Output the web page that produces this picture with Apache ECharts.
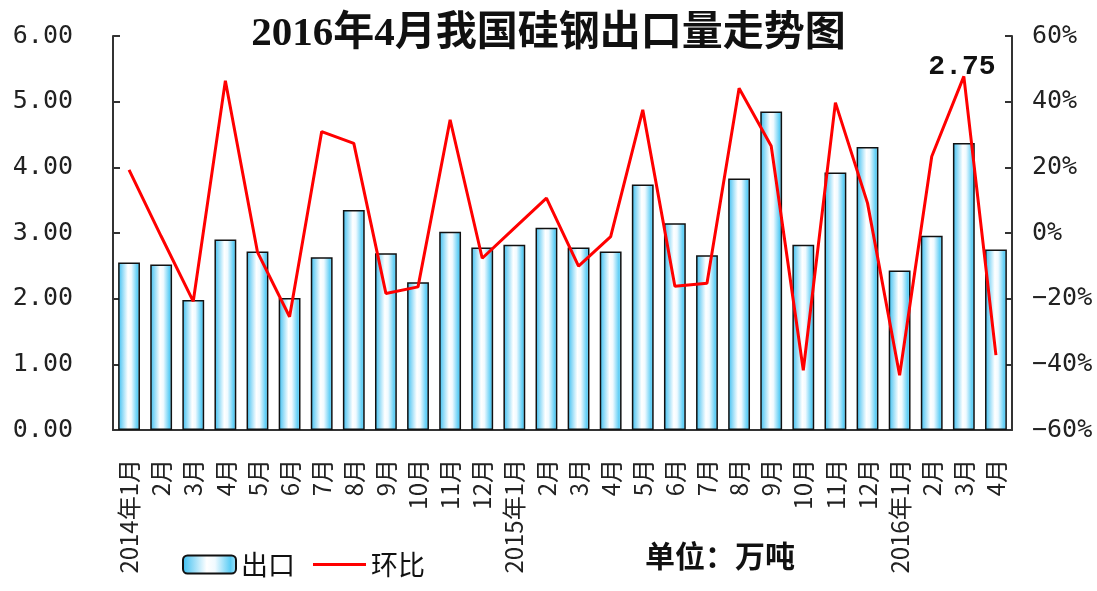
<!DOCTYPE html>
<html lang="zh">
<head>
	<meta charset="UTF-8">
	<title>2016年4月我国硅钢出口量走势图</title>
	<style type="text/css">
		html, body{ margin: 0; padding: 0; background: #fff; }
		#main{ width: 1097px; height: 591px; }
	</style>
</head>
<body>
	<div id="main"></div>
	<script type="text/javascript" src="https://cdn.jsdelivr.net/npm/echarts@6/dist/echarts.min.js"></script>
	<script type="text/javascript">
		// 月份
		var months = ['2014年1月', '2月', '3月', '4月', '5月', '6月', '7月', '8月', '9月', '10月', '11月', '12月',
			'2015年1月', '2月', '3月', '4月', '5月', '6月', '7月', '8月', '9月', '10月', '11月', '12月',
			'2016年1月', '2月', '3月', '4月'];
		// 出口量 万吨
		var exportVol = [2.55, 2.52, 1.98, 2.90, 2.72, 2.01, 2.63, 3.35, 2.69, 2.25, 3.02, 2.78,
			2.82, 3.08, 2.78, 2.72, 3.74, 3.15, 2.66, 3.83, 4.85, 2.82, 3.92, 4.31,
			2.43, 2.96, 4.37, 2.75];
		// 环比 %
		var momPct = [19.2, -1.0, -20.8, 46.4, -5.8, -25.5, 30.9, 27.3, -18.4, -16.4, 34.5, -7.7,
			1.5, 10.6, -10.1, -1.1, 37.5, -16.2, -15.3, 44.1, 26.5, -41.8, 39.7, 9.1,
			-43.3, 23.3, 47.7, -37.2];

		var myChart = echarts.init(document.getElementById('main'));

		var barFill = new echarts.graphic.LinearGradient(0, 0, 1, 0, [
			{offset: 0, color: '#38bdf0'},
			{offset: 0.45, color: '#ffffff'},
			{offset: 0.6, color: '#f0faff'},
			{offset: 0.88, color: '#5ccdf5'},
			{offset: 1, color: '#a8e4fa'}
		]);

		// 最后一个月标数值
		var barData = exportVol.map(function (v, i){
			if(i === exportVol.length - 1){
				return {
					value: v,
					label: {
						show: true,
						position: 'top',
						offset: [-34, -163],
						formatter: function (p){ return p.value.toFixed(2); },
						fontFamily: 'Liberation Mono',
						fontWeight: 'bold',
						fontSize: 28,
						color: '#111'
					}
				};
			}
			return v;
		});

		var axisFont = {
			fontFamily: 'DejaVu Sans Mono',
			fontSize: 25,
			color: '#222'
		};

		var option = {
			animation: false,
			title: {
				text: '2016年4月我国硅钢出口量走势图',
				left: 'center',
				top: 9,
				textStyle: {
					fontFamily: 'Liberation Serif, Noto Sans CJK SC',
					fontWeight: 'bold',
					fontSize: 41,
					color: '#111'
				}
			},
			legend: {
				left: 177,
				top: 546,
				itemWidth: 53,
				itemHeight: 18,
				itemGap: 18,
				data: [
					'出口',
					{name: '环比', icon: 'path://M0,0 M53,18 M0,7.5 L53,7.5 L53,10.5 L0,10.5 Z'}
				],
				textStyle: {
					fontFamily: 'Noto Sans CJK SC',
					fontSize: 27,
					color: '#111'
				}
			},
			grid: {
				left: 113,
				right: 85,
				top: 36,
				bottom: 161
			},
			xAxis: {
				type: 'category',
				data: months,
				boundaryGap: true,
				axisLine: { lineStyle: { color: '#333', width: 2 } },
				axisTick: { inside: true, length: 7, lineStyle: { color: '#333', width: 2 } },
				axisLabel: {
					interval: 0,
					rotate: 90,
					margin: 29,
					fontFamily: 'Noto Sans CJK SC',
					fontSize: 24,
					color: '#222'
				}
			},
			yAxis: [
				{
					type: 'value',
					min: 0,
					max: 6,
					interval: 1,
					axisLine: { show: true, lineStyle: { color: '#333', width: 2 } },
					axisTick: { show: true, inside: true, length: 7, lineStyle: { color: '#333', width: 2 } },
					splitLine: { show: false },
					axisLabel: Object.assign({
						margin: 40,
						formatter: function (v){ return v.toFixed(2); }
					}, axisFont)
				},
				{
					type: 'value',
					min: -60,
					max: 60,
					interval: 20,
					axisLine: { show: true, lineStyle: { color: '#333', width: 2 } },
					axisTick: { show: true, inside: true, length: 7, lineStyle: { color: '#333', width: 2 } },
					splitLine: { show: false },
					axisLabel: Object.assign({
						margin: 20,
						formatter: function (v){ return String(v).replace('-', '−') + '%'; }
					}, axisFont)
				}
			],
			graphic: [
				{
					type: 'text',
					left: 645,
					top: 541,
					style: {
						text: '单位：万吨',
						fontFamily: 'Noto Sans CJK SC',
						fontWeight: 'bold',
						fontSize: 30,
						fill: '#111'
					}
				}
			],
			series: [
				{
					name: '出口',
					type: 'bar',
					data: barData,
					barCategoryGap: '32%',
					itemStyle: {
						color: barFill,
						borderColor: '#111',
						borderWidth: 1.5
					}
				},
				{
					name: '环比',
					type: 'line',
					yAxisIndex: 1,
					data: momPct,
					symbol: 'none',
					lineStyle: { color: '#ff0000', width: 3 },
					itemStyle: { color: '#ff0000' }
				}
			]
		};
		myChart.setOption(option);
	</script>
</body>
</html>
